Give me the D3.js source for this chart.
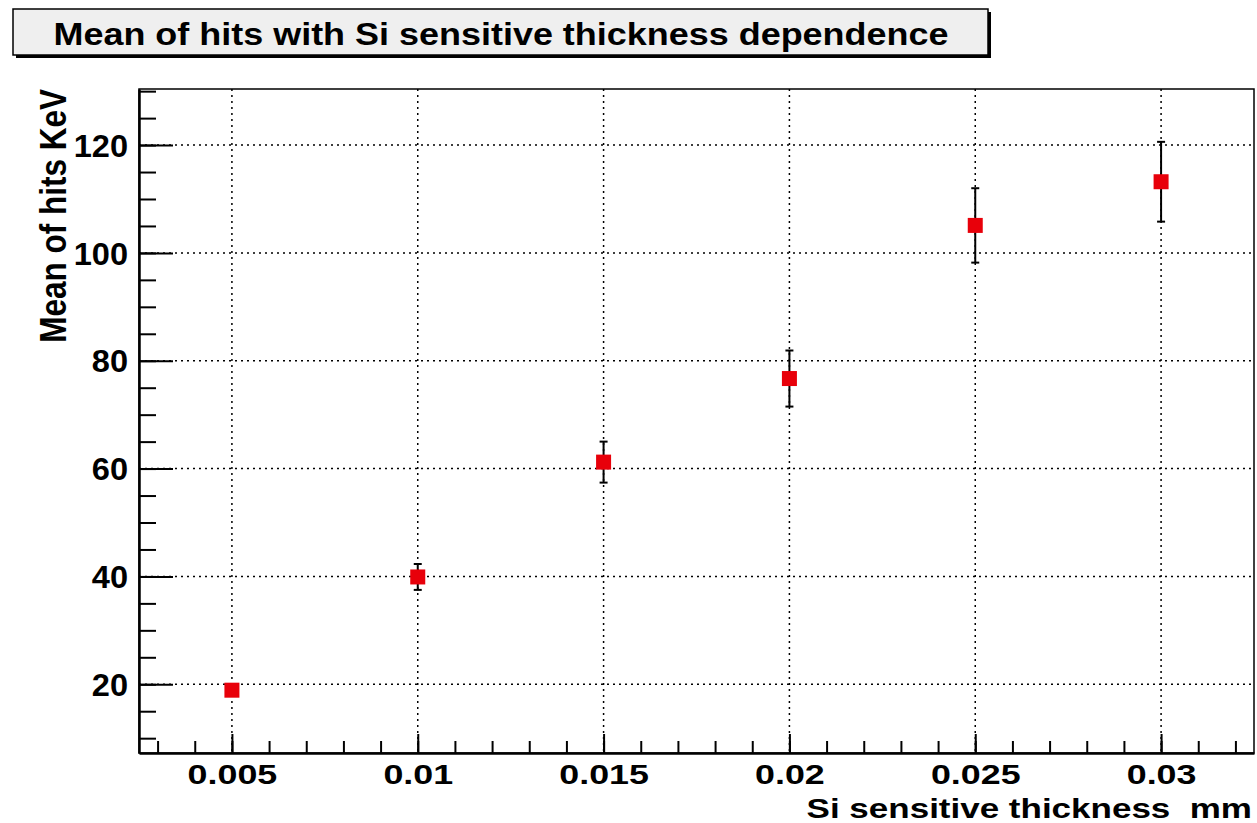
<!DOCTYPE html>
<html>
<head>
<meta charset="utf-8">
<script src="https://cdn.jsdelivr.net/npm/d3@7"></script>
<style>
  body { margin: 0; background: #fff; }
  text { font-family: "Liberation Sans", Arial, sans-serif; font-weight: bold; fill: #000; white-space: pre; }
</style>
</head>
<body>
<svg width="1257" height="823"></svg>
<script>
// values
var thickness = [0.005, 0.01, 0.015, 0.02, 0.025, 0.03];
var meanHits  = [18.9, 39.9, 61.2, 76.7, 105.1, 113.2];
var hitErrors = [1.0, 2.4, 3.8, 5.2, 6.9, 7.4];

var xTicks = [0.005, 0.01, 0.015, 0.02, 0.025, 0.03];
var xTickLabels = ["0.005", "0.01", "0.015", "0.02", "0.025", "0.03"];
var yTicks = [20, 40, 60, 80, 100, 120];

var titleText = "Mean of hits with Si sensitive thickness dependence";
var xTitle = "Si sensitive thickness  mm";
var yTitle = "Mean of hits KeV";

var margin = {top: 89, right: 3, bottom: 70, left: 139};
var width = 1257 - margin.left - margin.right;
var height = 823 - margin.top - margin.bottom;

var svg = d3.select("svg");

var xScale = d3.scaleLinear().domain([0.0025, 0.0325]).range([margin.left, margin.left + width]);
var yScale = d3.scaleLinear().domain([7.25, 130.4]).range([margin.top + height, margin.top]);

// stretch text sideways around its anchor
function stretch(sel, s) {
    sel.each(function() {
        var t = d3.select(this);
        var x = +t.attr("x") || 0;
        t.attr("transform", "translate(" + x + ",0) scale(" + s + ",1) translate(" + (-x) + ",0)");
    });
}

// title box with shadow
svg.append("rect")
    .attr("x", 16).attr("y", 12).attr("width", 975).attr("height", 46)
    .attr("fill", "#000");
svg.append("rect")
    .attr("x", 13).attr("y", 9).attr("width", 975).attr("height", 46)
    .attr("fill", "#efefef").attr("stroke", "#000").attr("stroke-width", 1.5);
var title = svg.append("text")
    .attr("x", 501).attr("y", 45)
    .attr("text-anchor", "middle")
    .style("font-size", "31px")
    .text(titleText);
stretch(title, 1.16);

// grid
svg.append("g").selectAll("line.gx")
    .data(xTicks).enter().append("line")
    .attr("x1", function(d) { return xScale(d); })
    .attr("x2", function(d) { return xScale(d); })
    .attr("y1", margin.top).attr("y2", margin.top + height)
    .attr("stroke", "#000").attr("stroke-width", 1.5).attr("stroke-dasharray", "2,4");
svg.append("g").selectAll("line.gy")
    .data(yTicks).enter().append("line")
    .attr("x1", margin.left).attr("x2", margin.left + width)
    .attr("y1", function(d) { return yScale(d); })
    .attr("y2", function(d) { return yScale(d); })
    .attr("stroke", "#000").attr("stroke-width", 1.5).attr("stroke-dasharray", "2,4");

// frame
svg.append("rect")
    .attr("x", margin.left).attr("y", margin.top)
    .attr("width", width).attr("height", height)
    .attr("fill", "none").attr("stroke", "#000").attr("stroke-width", 1.5);

// minor ticks
var xMinor = d3.range(3, 33).map(function(i) { return i / 1000; });
var yMinor = d3.range(10, 131, 5);

svg.append("g")
    .attr("transform", "translate(0," + (margin.top + height) + ")")
    .call(d3.axisBottom(xScale).tickValues(xMinor).tickSizeInner(-12).tickSizeOuter(0).tickFormat(""))
    .call(function(g) { g.select(".domain").remove(); })
    .selectAll("line").attr("stroke-width", 2);

svg.append("g")
    .attr("transform", "translate(" + margin.left + ",0)")
    .call(d3.axisLeft(yScale).tickValues(yMinor).tickSizeInner(-17).tickSizeOuter(0).tickFormat(""))
    .call(function(g) { g.select(".domain").remove(); })
    .selectAll("line").attr("stroke-width", 2);

// major axes
var xAxis = d3.axisBottom(xScale)
    .tickValues(xTicks)
    .tickFormat(function(d, i) { return xTickLabels[i]; })
    .tickSizeInner(-19).tickSizeOuter(0).tickPadding(10);
var gx = svg.append("g")
    .attr("transform", "translate(0," + (margin.top + height) + ")")
    .call(xAxis);
gx.select(".domain").attr("stroke-width", 2.5);
gx.selectAll("line").attr("stroke-width", 2);
gx.selectAll("text")
    .attr("fill", "#000")
    .attr("dy", null).attr("y", 31)
    .style("font-size", "28px");
stretch(gx.selectAll("text"), 1.28);

var yAxis = d3.axisLeft(yScale)
    .tickValues(yTicks)
    .tickSizeInner(-34).tickSizeOuter(0).tickPadding(11);
var gy = svg.append("g")
    .attr("transform", "translate(" + margin.left + ",0)")
    .call(yAxis);
gy.select(".domain").attr("stroke-width", 2.5);
gy.selectAll("line").attr("stroke-width", 2);
gy.selectAll("text")
    .attr("fill", "#000")
    .attr("dy", "0.36em")
    .style("font-size", "31px");
stretch(gy.selectAll("text"), 1.05);

// axis titles
var xt = svg.append("text")
    .attr("x", 1252).attr("y", 818)
    .attr("text-anchor", "end")
    .style("font-size", "28px")
    .text(xTitle);
stretch(xt, 1.25);

svg.append("g")
    .attr("transform", "translate(66," + margin.top + ") scale(1.2,1) rotate(-90)")
    .append("text")
    .attr("text-anchor", "end")
    .style("font-size", "31.5px")
    .text(yTitle);

// error bars
var points = svg.append("g");
var capW = 4;
points.selectAll("line.err")
    .data(thickness).enter().append("line")
    .attr("x1", function(d) { return xScale(d); })
    .attr("x2", function(d) { return xScale(d); })
    .attr("y1", function(d, i) { return yScale(meanHits[i] + hitErrors[i]); })
    .attr("y2", function(d, i) { return yScale(meanHits[i] - hitErrors[i]); })
    .attr("stroke", "#000").attr("stroke-width", 2);
[1, -1].forEach(function(sign) {
    points.selectAll(null)
        .data(thickness).enter().append("line")
        .attr("x1", function(d) { return xScale(d) - capW; })
        .attr("x2", function(d) { return xScale(d) + capW; })
        .attr("y1", function(d, i) { return yScale(meanHits[i] + sign * hitErrors[i]); })
        .attr("y2", function(d, i) { return yScale(meanHits[i] + sign * hitErrors[i]); })
        .attr("stroke", "#000").attr("stroke-width", 2);
});

// markers
var ms = 15;
points.selectAll("rect")
    .data(thickness).enter().append("rect")
    .attr("x", function(d) { return xScale(d) - ms / 2; })
    .attr("y", function(d, i) { return yScale(meanHits[i]) - ms / 2; })
    .attr("width", ms).attr("height", ms)
    .attr("fill", "#e8000a");
</script>
</body>
</html>
